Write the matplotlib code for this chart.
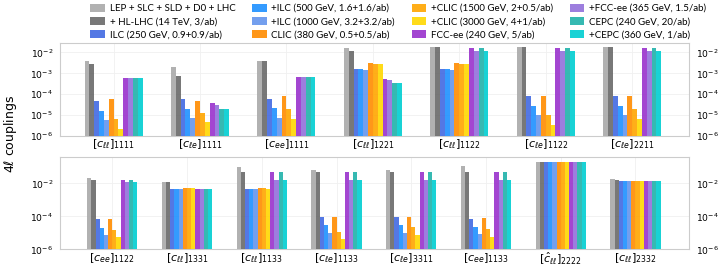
import numpy as np
import matplotlib
matplotlib.use("Agg")
import matplotlib.pyplot as plt
from matplotlib.ticker import FixedLocator

series = [
    "LEP + SLC + SLD + D0 + LHC",
    "+ HL-LHC (14 TeV, 3/ab)",
    "ILC (250 GeV, 0.9+0.9/ab)",
    "+ILC (500 GeV, 1.6+1.6/ab)",
    "+ILC (1000 GeV, 3.2+3.2/ab)",
    "CLIC (380 GeV, 0.5+0.5/ab)",
    "+CLIC (1500 GeV, 2+0.5/ab)",
    "+CLIC (3000 GeV, 4+1/ab)",
    "FCC-ee (240 GeV, 5/ab)",
    "+FCC-ee (365 GeV, 1.5/ab)",
    "CEPC (240 GeV, 20/ab)",
    "+CEPC (360 GeV, 1/ab)",
]
colors = ["darkgray", "dimgray", "royalblue", "dodgerblue", "cornflowerblue",
          "darkorange", "orange", "gold", "darkorchid", "mediumpurple",
          "lightseagreen", "darkturquoise"]

top_labels = [r"$[c_{\ell\ell}]_{1111}$", r"$[c_{\ell e}]_{1111}$", r"$[c_{ee}]_{1111}$",
              r"$[c_{\ell\ell}]_{1221}$", r"$[c_{\ell\ell}]_{1122}$", r"$[c_{\ell e}]_{1122}$",
              r"$[c_{\ell e}]_{2211}$"]
bot_labels = [r"$[c_{ee}]_{1122}$", r"$[c_{\ell\ell}]_{1331}$", r"$[c_{\ell\ell}]_{1133}$",
              r"$[c_{\ell e}]_{1133}$", r"$[c_{\ell e}]_{3311}$", r"$[c_{ee}]_{1133}$",
              r"$[\hat{c}_{\ell\ell}]_{2222}$", r"$[c_{\ell\ell}]_{2332}$"]

top_ticks = [1e-6, 1e-5, 1e-4, 1e-3, 1e-2]
bot_ticks = [1e-6, 1e-4, 1e-2]

# rows: couplings, columns: the 12 scenarios
top_values = [
    [3.9e-3, 2.8e-3, 4.9e-5, 1.65e-5, 5.9e-6, 5.9e-5, 6.9e-6, 2.3e-6, 5.9e-4, 5.9e-4, 5.9e-4, 5.9e-4],
    [2.1e-3, 7.2e-4, 5.9e-5, 2.0e-5, 7.4e-6, 4.8e-5, 1.3e-5, 4.5e-6, 3.8e-5, 3.1e-5, 2.0e-5, 1.9e-5],
    [3.9e-3, 3.8e-3, 6.1e-5, 2.1e-5, 7.7e-6, 8.5e-5, 1.9e-5, 6.6e-6, 6.5e-4, 6.5e-4, 6.5e-4, 6.5e-4],
    [1.6e-2, 1.15e-2, 1.6e-3, 1.55e-3, 1.5e-3, 3.0e-3, 2.8e-3, 2.7e-3, 5.2e-4, 5.0e-4, 3.6e-4, 3.6e-4],
    [1.9e-2, 1.85e-2, 1.6e-3, 1.55e-3, 1.5e-3, 3.0e-3, 2.8e-3, 2.7e-3, 1.6e-2, 1.2e-2, 1.6e-2, 1.2e-2],
    [1.9e-2, 1.9e-2, 8.5e-5, 2.8e-5, 1.0e-5, 8.5e-5, 1.07e-5, 3.6e-6, 1.6e-2, 1.15e-2, 1.6e-2, 1.15e-2],
    [1.9e-2, 1.9e-2, 8.5e-5, 2.8e-5, 1.0e-5, 8.5e-5, 2.0e-5, 6.9e-6, 1.6e-2, 1.15e-2, 1.6e-2, 1.15e-2],
]
bot_values = [
    [2.1e-2, 1.7e-2, 6.5e-5, 2.1e-5, 7.2e-6, 6.5e-5, 1.6e-5, 5.8e-6, 1.6e-2, 1.2e-2, 1.6e-2, 1.2e-2],
    [1.26e-2, 1.2e-2, 4.4e-3, 4.4e-3, 4.4e-3, 5.1e-3, 5.1e-3, 5.0e-3, 4.4e-3, 4.4e-3, 4.3e-3, 4.3e-3],
    [1.0e-1, 4.7e-2, 4.4e-3, 4.4e-3, 4.4e-3, 5.0e-3, 5.0e-3, 4.9e-3, 4.7e-2, 1.6e-2, 4.7e-2, 1.6e-2],
    [6.3e-2, 4.7e-2, 9.6e-5, 3.1e-5, 1.0e-5, 9.6e-5, 1.2e-5, 4.1e-6, 4.7e-2, 1.6e-2, 4.7e-2, 1.6e-2],
    [6.3e-2, 4.7e-2, 9.6e-5, 3.1e-5, 1.0e-5, 9.6e-5, 2.3e-5, 7.9e-6, 4.7e-2, 1.6e-2, 4.7e-2, 1.6e-2],
    [1.1e-1, 5.0e-2, 7.1e-5, 2.3e-5, 8.2e-6, 7.7e-5, 1.7e-5, 5.8e-6, 4.7e-2, 1.6e-2, 4.7e-2, 1.6e-2],
    [1.9e-1, 1.9e-1, 1.9e-1, 1.9e-1, 1.9e-1, 1.9e-1, 1.9e-1, 1.9e-1, 1.9e-1, 1.9e-1, 1.9e-1, 1.9e-1],
    [1.9e-2, 1.7e-2, 1.5e-2, 1.5e-2, 1.5e-2, 1.5e-2, 1.5e-2, 1.5e-2, 1.5e-2, 1.5e-2, 1.5e-2, 1.5e-2],
]

fig = plt.figure(figsize=(7.2, 2.67), dpi=100)
ax1 = fig.add_axes([0.0833, 0.49, 0.874, 0.349])
ax2 = fig.add_axes([0.0833, 0.066, 0.874, 0.346])

bw = 0.056
nser = len(series)
offsets = (np.arange(nser) - (nser - 1) / 2) * bw

def draw(ax, labels, values, ylim, xlim, ticks):
    vals = np.array(values)
    x = np.arange(len(labels))
    for j in range(nser):
        ax.bar(x + offsets[j], vals[:, j], width=bw, color=colors[j], alpha=0.9,
               label=series[j], zorder=3)
    ax.set_yscale("log")
    ax.set_ylim(*ylim)
    ax.set_xlim(*xlim)
    ax.set_xticks(x)
    ax.set_xticklabels(labels, fontsize=8)
    ax.yaxis.set_major_locator(FixedLocator(ticks))
    ax.yaxis.set_minor_locator(plt.NullLocator())
    ax.tick_params(axis="y", which="both", left=False, right=False,
                   labelleft=True, labelright=True, labelsize=6.6, pad=1.5)
    ax.tick_params(axis="x", length=0, pad=1)
    ax.grid(True, color="#f0f0f0", linewidth=0.6, zorder=0)
    for s in ax.spines.values():
        s.set_color("#cccccc")
        s.set_linewidth(0.8)

draw(ax1, top_labels, top_values, (1e-6, 2.8e-2), (-0.62, 6.66), top_ticks)
draw(ax2, bot_labels, bot_values, (1e-6, 0.4), (-0.7, 7.72), bot_ticks)

handles, labs = ax1.get_legend_handles_labels()
fig.legend(handles, labs, ncol=4, loc="upper left", bbox_to_anchor=(0.116, 1.012),
           frameon=False, prop={"family": "Lato", "size": 7}, handlelength=1.5,
           handleheight=0.9, columnspacing=1.7, labelspacing=0.4, handletextpad=0.5,
           borderpad=0.2)

fig.text(0.014, 0.5, r"$4\ell$ couplings", rotation=90, va="center", ha="center",
         fontsize=9)

fig.savefig("out.png", dpi=100)
